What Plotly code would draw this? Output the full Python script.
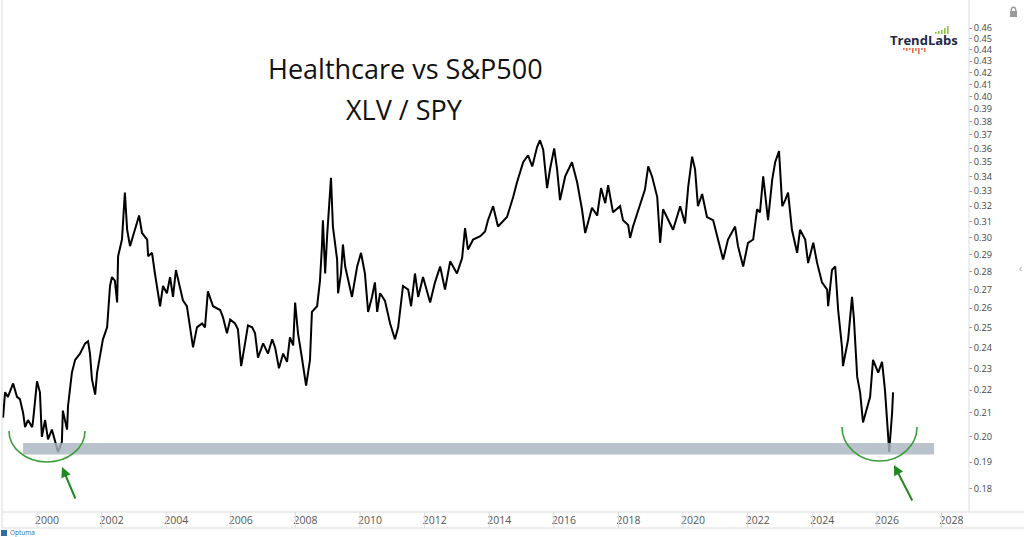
import plotly.graph_objects as go

# ---------------- data ----------------
years = [
    1998.95, 1999.01, 1999.10, 1999.26, 1999.38, 1999.47, 1999.57, 1999.63, 1999.72, 1999.85,
    1999.88, 2000.00, 2000.09, 2000.15, 2000.25, 2000.34, 2000.46, 2000.56, 2000.65, 2000.77,
    2000.80, 2000.93, 2000.96, 2001.08, 2001.18, 2001.33, 2001.49, 2001.58, 2001.64, 2001.70,
    2001.80, 2001.86, 2001.95, 2002.04, 2002.17, 2002.26, 2002.32, 2002.41, 2002.48, 2002.51,
    2002.63, 2002.66, 2002.72, 2002.79, 2002.88, 2002.97, 2003.10, 2003.16, 2003.25, 2003.41,
    2003.44, 2003.56, 2003.65, 2003.75, 2003.81, 2003.90, 2004.02, 2004.12, 2004.21, 2004.30,
    2004.43, 2004.52, 2004.64, 2004.74, 2004.83, 2004.95, 2005.11, 2005.20, 2005.29, 2005.45,
    2005.67, 2005.76, 2005.88, 2005.98, 2006.13, 2006.22, 2006.32, 2006.44, 2006.53, 2006.66,
    2006.75, 2006.84, 2007.00, 2007.15, 2007.28, 2007.37, 2007.49, 2007.62, 2007.74, 2007.83,
    2007.93, 2007.99, 2008.08, 2008.20, 2008.33, 2008.45, 2008.51, 2008.67, 2008.76, 2008.82,
    2008.85, 2008.92, 2008.98, 2009.10, 2009.16, 2009.29, 2009.32, 2009.41, 2009.47, 2009.54,
    2009.63, 2009.75, 2009.91, 2010.03, 2010.15, 2010.25, 2010.37, 2010.46, 2010.53, 2010.62,
    2010.77, 2010.93, 2011.08, 2011.18, 2011.33, 2011.49, 2011.58, 2011.70, 2011.80, 2011.95,
    2012.17, 2012.32, 2012.48, 2012.63, 2012.79, 2013.00, 2013.16, 2013.25, 2013.34, 2013.50,
    2013.72, 2013.87, 2013.96, 2014.12, 2014.27, 2014.55, 2014.74, 2014.86, 2015.05, 2015.20,
    2015.33, 2015.48, 2015.57, 2015.67, 2015.79, 2015.88, 2016.01, 2016.10, 2016.19, 2016.35,
    2016.56, 2016.72, 2016.87, 2016.97, 2017.18, 2017.34, 2017.46, 2017.59, 2017.68, 2017.83,
    2018.05, 2018.14, 2018.30, 2018.36, 2018.45, 2018.67, 2018.82, 2018.92, 2019.04, 2019.20,
    2019.29, 2019.38, 2019.54, 2019.69, 2019.91, 2020.06, 2020.16, 2020.28, 2020.37, 2020.46,
    2020.59, 2020.74, 2020.93, 2021.08, 2021.15, 2021.24, 2021.39, 2021.61, 2021.70, 2021.86,
    2022.01, 2022.17, 2022.29, 2022.38, 2022.48, 2022.63, 2022.76, 2022.85, 2022.97, 2023.07,
    2023.16, 2023.25, 2023.37, 2023.53, 2023.62, 2023.78, 2023.87, 2024.03, 2024.15, 2024.30,
    2024.46, 2024.49, 2024.61, 2024.71, 2024.80, 2024.92, 2024.95, 2025.11, 2025.23, 2025.29,
    2025.39, 2025.48, 2025.57, 2025.70, 2025.79, 2025.88, 2026.04, 2026.16, 2026.25, 2026.35,
    2026.38, 2026.47, 2026.50,
]
xlv_spy = [
    0.208, 0.219, 0.217, 0.223, 0.217, 0.216, 0.210, 0.204, 0.207, 0.204,
    0.207, 0.224, 0.219, 0.200, 0.207, 0.199, 0.203, 0.198, 0.194, 0.198,
    0.211, 0.203, 0.213, 0.228, 0.234, 0.237, 0.242, 0.243, 0.237, 0.225,
    0.218, 0.228, 0.237, 0.244, 0.250, 0.272, 0.277, 0.275, 0.263, 0.289,
    0.299, 0.307, 0.329, 0.305, 0.295, 0.301, 0.309, 0.314, 0.303, 0.299,
    0.289, 0.291, 0.279, 0.266, 0.261, 0.272, 0.268, 0.277, 0.266, 0.281,
    0.270, 0.264, 0.261, 0.249, 0.240, 0.250, 0.252, 0.250, 0.269, 0.261,
    0.259, 0.255, 0.247, 0.254, 0.252, 0.249, 0.231, 0.242, 0.251, 0.250,
    0.247, 0.235, 0.242, 0.237, 0.244, 0.240, 0.230, 0.237, 0.233, 0.245,
    0.241, 0.263, 0.247, 0.235, 0.222, 0.234, 0.258, 0.261, 0.275, 0.295,
    0.311, 0.279, 0.301, 0.339, 0.307, 0.287, 0.268, 0.279, 0.296, 0.283,
    0.275, 0.266, 0.283, 0.291, 0.279, 0.258, 0.266, 0.274, 0.258, 0.268,
    0.264, 0.252, 0.244, 0.250, 0.272, 0.270, 0.261, 0.279, 0.266, 0.277,
    0.263, 0.274, 0.283, 0.270, 0.286, 0.279, 0.288, 0.306, 0.293, 0.299,
    0.301, 0.304, 0.311, 0.320, 0.307, 0.313, 0.326, 0.336, 0.350, 0.355,
    0.347, 0.361, 0.366, 0.359, 0.332, 0.345, 0.360, 0.345, 0.324, 0.340,
    0.350, 0.336, 0.318, 0.303, 0.319, 0.314, 0.332, 0.322, 0.334, 0.316,
    0.320, 0.311, 0.308, 0.300, 0.307, 0.321, 0.331, 0.347, 0.340, 0.326,
    0.297, 0.318, 0.311, 0.305, 0.320, 0.309, 0.333, 0.354, 0.345, 0.320,
    0.328, 0.313, 0.311, 0.299, 0.293, 0.287, 0.299, 0.307, 0.295, 0.283,
    0.297, 0.299, 0.318, 0.316, 0.340, 0.311, 0.338, 0.350, 0.358, 0.320,
    0.324, 0.329, 0.305, 0.291, 0.305, 0.299, 0.285, 0.297, 0.285, 0.274,
    0.270, 0.261, 0.281, 0.283, 0.259, 0.240, 0.231, 0.244, 0.266, 0.254,
    0.226, 0.219, 0.206, 0.213, 0.217, 0.234, 0.228, 0.233, 0.220, 0.200,
    0.194, 0.210, 0.219,
]

x_tick_years = list(range(2000, 2029, 2))
x_tick_labels = [str(y) for y in x_tick_years]
y_tick_values = [0.18, 0.19, 0.20, 0.21, 0.22, 0.23, 0.24, 0.25, 0.26, 0.27, 0.28, 0.29, 0.30,
                 0.31, 0.32, 0.33, 0.34, 0.35, 0.36, 0.37, 0.38, 0.39, 0.40, 0.41, 0.42, 0.43,
                 0.44, 0.45, 0.46]
y_tick_labels = [f"{v:.2f}" for v in y_tick_values]

support_band = {"start": 1999.57, "end": 2027.77, "low": 0.193, "high": 0.1975}

title_line1 = "Healthcare vs S&P500"
title_line2 = "XLV / SPY"

# ---------------- layout geometry ----------------
W, H = 1024, 537
ML, MR, MT, MB = 2, 56, 8, 25
PW, PH = W - ML - MR, H - MT - MB


def pxx(x):
    return (x - ML) / PW


def pxy(y):
    return (H - MB - y) / PH


fig = go.Figure()
fig.add_trace(go.Scatter(
    x=years, y=xlv_spy, mode="lines",
    line=dict(color="#000000", width=2),
    hoverinfo="x+y",
))

shapes = []
# support band (drawn above the line, semi-transparent)
shapes.append(dict(type="rect", xref="x", yref="y",
                   x0=support_band["start"], x1=support_band["end"],
                   y0=support_band["low"], y1=support_band["high"],
                   fillcolor="rgba(171,180,191,0.82)", line=dict(width=0), layer="above"))

# frame lines
grey = "#dcdcdc"
shapes.append(dict(type="line", xref="paper", yref="paper", x0=pxx(2), x1=pxx(2),
                   y0=pxy(0), y1=pxy(528), line=dict(color=grey, width=1)))
shapes.append(dict(type="line", xref="paper", yref="paper", x0=pxx(969), x1=pxx(969),
                   y0=pxy(0), y1=pxy(512), line=dict(color=grey, width=1)))
shapes.append(dict(type="line", xref="paper", yref="paper", x0=pxx(2), x1=pxx(1024),
                   y0=pxy(512), y1=pxy(512), line=dict(color=grey, width=1)))
shapes.append(dict(type="line", xref="paper", yref="paper", x0=pxx(2), x1=pxx(1024),
                   y0=pxy(528), y1=pxy(528), line=dict(color=grey, width=1)))
# year separators in the date strip
for yr in x_tick_years:
    shapes.append(dict(type="line", xref="x", yref="paper", x0=yr, x1=yr,
                       y0=pxy(512), y1=pxy(528), line=dict(color=grey, width=1)))


# green arcs
def arc(cx, top, rx, ry):
    k = 0.5523
    p = (f"M {pxx(cx - rx)},{pxy(top)} "
         f"C {pxx(cx - rx)},{pxy(top + k * ry)} {pxx(cx - k * rx)},{pxy(top + ry)} {pxx(cx)},{pxy(top + ry)} "
         f"C {pxx(cx + k * rx)},{pxy(top + ry)} {pxx(cx + rx)},{pxy(top + k * ry)} {pxx(cx + rx)},{pxy(top)}")
    return dict(type="path", xref="paper", yref="paper", path=p,
                line=dict(color="#3a9e3a", width=1.6), layer="above")


shapes.append(arc(47, 431, 38, 31))
shapes.append(arc(879.5, 427, 37.5, 34))

# TrendLabs logo decorations
for i, h in enumerate([2, 3, 4, 6, 8]):
    x0 = 935 + i * 3
    shapes.append(dict(type="rect", xref="paper", yref="paper", x0=pxx(x0), x1=pxx(x0 + 1.6),
                       y0=pxy(34), y1=pxy(34 - h), fillcolor="#8cc63f", line=dict(width=0)))
for i, h in enumerate([2, 3, 2, 5, 3, 6, 2, 4]):
    x0 = 903 + i * 3
    shapes.append(dict(type="rect", xref="paper", yref="paper", x0=pxx(x0), x1=pxx(x0 + 1.6),
                       y0=pxy(48), y1=pxy(48 + h), fillcolor="#f26b4f", line=dict(width=0)))
# Optuma logo square
shapes.append(dict(type="rect", xref="paper", yref="paper", x0=pxx(1), x1=pxx(7),
                   y0=pxy(530), y1=pxy(536), fillcolor="#2f6da3", line=dict(width=0)))
# lock icon
shapes.append(dict(type="rect", xref="paper", yref="paper", x0=pxx(1010), x1=pxx(1017),
                   y0=pxy(11), y1=pxy(17), fillcolor="#9a9a9a", line=dict(width=0)))
shapes.append(dict(type="path", xref="paper", yref="paper",
                   path=f"M {pxx(1011.2)},{pxy(11)} C {pxx(1011.2)},{pxy(6)} {pxx(1015.8)},{pxy(6)} {pxx(1015.8)},{pxy(11)}",
                   line=dict(color="#9a9a9a", width=1.4)))

annotations = [
    dict(text=title_line1, xref="paper", yref="paper", x=pxx(405), y=pxy(68),
         xanchor="center", yanchor="middle",
         showarrow=False, font=dict(family="Open Sans", size=27, color="#111111")),
    dict(text=title_line2, xref="paper", yref="paper", x=pxx(404), y=pxy(110),
         xanchor="center", yanchor="middle",
         showarrow=False, font=dict(family="Open Sans", size=27, color="#111111")),
    dict(text="<b>TrendLabs</b>", xref="paper", yref="paper", x=pxx(924), y=pxy(40),
         xanchor="center", yanchor="middle",
         showarrow=False, font=dict(family="Open Sans", size=13, color="#1d2b4a")),
    dict(text="Optuma", xref="paper", yref="paper", x=pxx(8), y=pxy(532.5),
         xanchor="left", yanchor="middle",
         showarrow=False, font=dict(family="Open Sans", size=6.5, color="#2f6da3")),
    dict(text="‹", xref="paper", yref="paper", x=pxx(1020), y=pxy(268),
         xanchor="center", yanchor="middle",
         showarrow=False, font=dict(family="Open Sans", size=10, color="#999999")),
    # arrows
    dict(text="", xref="paper", yref="paper", x=pxx(62), y=pxy(467), ax=14, ay=33,
         showarrow=True, arrowhead=2, arrowsize=1, arrowwidth=2, arrowcolor="#1f8a1f"),
    dict(text="", xref="paper", yref="paper", x=pxx(894), y=pxy(465), ax=19, ay=37,
         showarrow=True, arrowhead=2, arrowsize=1, arrowwidth=2, arrowcolor="#1f8a1f"),
]

fig.update_layout(
    width=W, height=H,
    margin=dict(l=ML, r=MR, t=MT, b=MB, pad=0),
    paper_bgcolor="white", plot_bgcolor="white",
    showlegend=False,
    shapes=shapes,
    annotations=annotations,
    font=dict(family="Open Sans"),
    xaxis=dict(
        range=[1998.916, 2028.82], tickmode="array", tickvals=x_tick_years, ticktext=x_tick_labels,
        showgrid=False, zeroline=False, showline=False, ticks="",
        ticklabelshift=10, tickfont=dict(size=10.5, color="#555555"),
        fixedrange=True,
    ),
    yaxis=dict(
        type="log", range=[-0.7654, -0.3195], side="right",
        tickmode="array", tickvals=y_tick_values, ticktext=y_tick_labels,
        showgrid=False, zeroline=False, showline=False,
        ticks="outside", ticklen=3, tickcolor="#999999",
        tickfont=dict(size=9.2, color="#444444"),
        fixedrange=True,
    ),
)

fig.write_html("out.html")
